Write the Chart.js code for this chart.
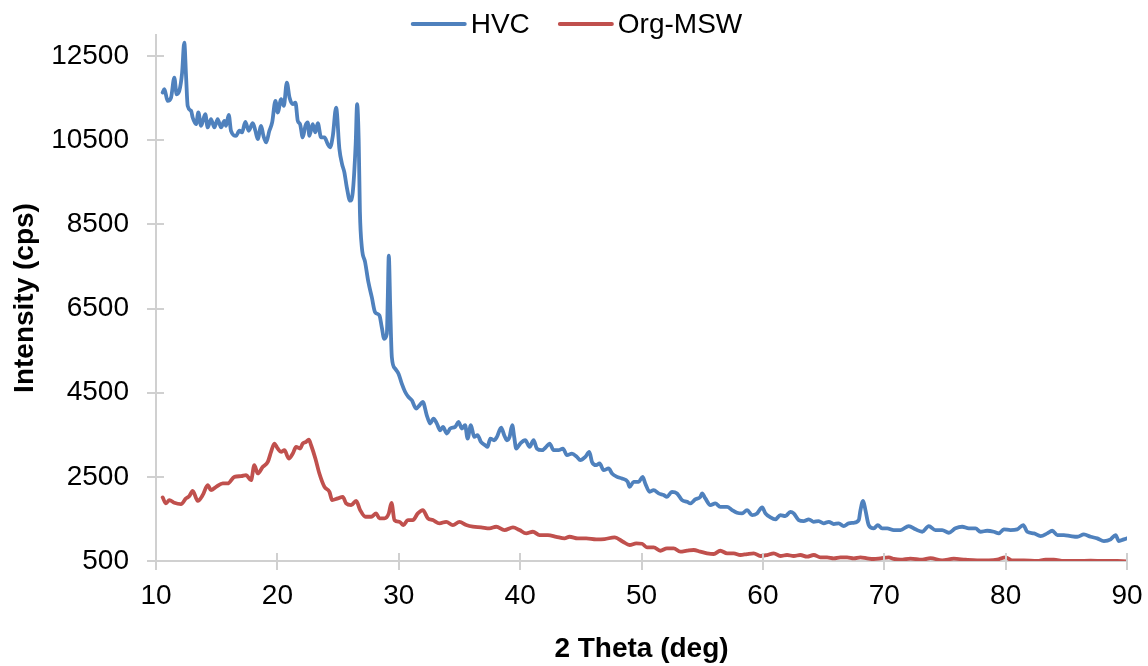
<!DOCTYPE html>
<html>
<head>
<meta charset="utf-8">
<script src="https://cdn.jsdelivr.net/npm/chart.js@4/dist/chart.umd.min.js"></script>
<style>
html,body{margin:0;padding:0;background:#fff;}
#wrap{width:1148px;height:666px;}
</style>
</head>
<body>
<div id="wrap"><canvas id="c" width="1148" height="666"></canvas></div>
<script>
// ---- data ----
const seriesNames = ["HVC", "Org-MSW"];
const xTicks = [10, 20, 30, 40, 50, 60, 70, 80, 90];
const yTicks = [500, 2500, 4500, 6500, 8500, 10500, 12500];

const hvcTheta = [10.55,10.69,10.96,11.24,11.51,11.70,11.92,12.15,12.33,12.48,12.61,12.89,13.02,13.30,13.49,13.71,14.06,14.26,14.53,14.81,15.08,15.36,15.63,15.77,15.99,16.18,16.60,16.87,17.09,17.36,17.64,17.97,18.19,18.38,18.66,18.85,19.07,19.34,19.57,19.84,20.03,20.31,20.53,20.78,21.00,21.27,21.49,21.68,21.87,22.09,22.31,22.50,22.64,22.91,23.13,23.33,23.60,23.88,24.15,24.34,24.57,24.84,25.11,25.33,25.52,25.72,25.99,26.21,26.45,26.57,26.70,26.80,26.96,27.23,27.50,27.78,28.05,28.41,28.60,28.80,29.02,29.10,29.18,29.30,29.43,29.70,29.98,30.25,30.53,30.80,31.08,31.43,31.71,31.98,32.31,32.59,32.86,33.14,33.41,33.64,33.97,34.24,34.65,34.92,35.20,35.47,35.67,35.94,36.22,36.49,36.77,37.12,37.31,37.54,37.86,38.09,38.44,38.69,38.91,39.13,39.35,39.51,39.68,40.01,40.42,40.78,41.11,41.38,41.80,42.15,42.43,42.76,43.17,43.53,43.86,44.27,44.68,44.96,45.37,45.70,45.92,46.27,46.55,46.88,47.29,47.57,47.98,48.39,48.86,49.02,49.35,49.76,50.09,50.31,50.67,51.00,51.41,51.82,52.10,52.51,52.93,53.34,53.75,54.02,54.43,54.85,54.99,55.26,55.67,56.08,56.49,57.05,57.46,57.87,58.29,58.70,59.11,59.52,59.94,60.21,60.62,61.03,61.44,61.85,62.27,62.54,62.95,63.36,63.78,64.19,64.60,65.01,65.43,65.84,66.25,66.66,67.07,67.49,67.90,68.04,68.26,68.45,68.72,69.14,69.47,69.82,70.24,70.79,71.34,72.02,72.57,73.13,73.67,74.22,74.77,75.32,75.87,76.42,76.97,77.52,77.93,78.48,79.03,79.44,79.85,80.40,80.95,81.45,81.78,82.33,82.88,83.43,83.84,84.26,84.80,85.35,85.90,86.45,87.00,87.55,88.10,88.65,89.06,89.33,89.74,90.00];
const hvcCounts = [11632,11712,11435,11513,11987,11592,11672,12100,12818,12000,11316,11198,11040,10882,11158,10842,11120,10803,11001,10803,11001,10803,10961,10842,11103,10724,10605,10724,10684,10937,10724,10906,10724,10527,10842,10605,10447,10724,10921,11435,11158,11475,11316,11869,11513,11355,11395,10961,10882,10566,10842,10921,10605,10882,10684,10906,10566,10566,10408,10328,10605,11276,10289,9933,9735,9379,9063,9260,10400,11355,10500,8800,7955,7600,7125,6769,6413,6335,6057,5782,5901,6800,7758,6500,5346,5071,4952,4715,4516,4397,4319,4122,4200,4279,3963,3766,3885,3766,3607,3686,3529,3648,3686,3805,3648,3726,3410,3726,3449,3489,3330,3251,3211,3410,3370,3449,3671,3489,3370,3449,3726,3449,3172,3291,3370,3211,3370,3172,3133,3211,3291,3133,3133,3172,3014,3054,2974,2896,2974,3093,2855,2777,2817,2658,2699,2580,2500,2461,2381,2262,2381,2381,2500,2343,2144,2184,2106,2066,2025,2144,2106,1947,1907,1869,1963,2025,2106,1987,1828,1869,1788,1788,1710,1646,1631,1710,1591,1631,1773,1631,1537,1489,1591,1567,1669,1631,1473,1449,1489,1432,1449,1394,1432,1378,1394,1330,1394,1408,1473,1710,1930,1710,1354,1276,1354,1276,1276,1235,1235,1330,1252,1195,1330,1235,1235,1171,1276,1314,1276,1276,1195,1219,1195,1157,1252,1235,1252,1354,1195,1157,1093,1157,1219,1117,1117,1093,1076,1133,1076,1038,974,1014,1117,974,1014,1038];

const mswTheta = [10.55,10.82,11.10,11.51,12.06,12.47,12.75,13.02,13.44,13.85,14.26,14.53,14.95,15.50,15.91,16.46,17.01,17.42,17.83,18.10,18.38,18.80,19.21,19.48,19.75,20.03,20.31,20.58,20.94,21.27,21.54,21.87,22.09,22.37,22.59,22.78,23.13,23.46,23.88,24.29,24.51,24.98,25.39,25.66,26.08,26.49,26.82,27.26,27.73,28.14,28.41,28.82,29.18,29.40,29.65,30.06,30.39,30.75,31.16,31.57,31.98,32.40,32.81,33.36,33.91,34.46,35.00,35.56,36.11,36.79,37.48,38.03,38.71,39.41,39.95,40.50,41.05,41.60,42.29,42.98,43.66,44.07,44.76,45.45,46.27,46.96,47.78,48.47,49.02,49.57,50.04,50.45,51.00,51.55,52.10,52.65,53.20,53.75,54.30,54.85,55.40,55.95,56.49,57.05,57.60,58.15,58.70,59.25,59.80,60.35,60.90,61.44,61.99,62.54,63.09,63.64,64.19,64.74,65.29,65.84,66.39,66.94,67.49,68.04,68.59,69.14,69.69,70.37,70.79,71.34,72.16,73.13,73.81,74.77,75.73,76.70,77.66,78.62,79.30,79.99,80.54,81.50,82.60,83.29,83.97,84.80,85.90,87.00,88.10,89.20,90.00];
const mswCounts = [2011,1869,1947,1883,1852,1987,2042,2167,1930,2066,2303,2184,2262,2343,2343,2500,2516,2540,2421,2777,2580,2737,2855,3093,3291,3172,3093,3133,2936,3054,3211,3172,3291,3330,3386,3251,2936,2580,2262,2144,1947,1987,2025,1869,1828,1930,1710,1551,1551,1631,1513,1513,1631,1883,1473,1432,1354,1473,1473,1631,1710,1513,1473,1394,1432,1354,1432,1354,1314,1299,1276,1314,1235,1299,1235,1157,1195,1117,1117,1076,1038,1076,1038,1038,1014,1022,1062,958,880,920,910,825,825,744,801,801,721,744,761,721,683,666,744,683,683,642,666,683,619,642,683,619,642,619,642,602,642,588,588,564,588,588,564,588,564,547,564,588,550,530,555,530,570,515,555,530,515,515,530,588,515,515,500,530,530,500,500,510,500,500,490];

const seriesColors = ["#4F81BD", "#C0504D"];

// ---- chart ----
const FONT = "'Liberation Sans', Arial, Helvetica, sans-serif";
const AXIS_COLOR = "#d0d0d0";

function pts(xs, ys) { return xs.map((x, i) => ({x: x, y: ys[i]})); }

const crossTicks = {
  id: 'crossTicks',
  afterDatasetsDraw(chart) {
    const ctx = chart.ctx, a = chart.chartArea;
    const xs = chart.scales.x, ys = chart.scales.y;
    ctx.save();
    ctx.strokeStyle = AXIS_COLOR;
    ctx.lineWidth = 2;
    ys.ticks.forEach((t, i) => {
      const py = Math.round(ys.getPixelForTick(i));
      ctx.beginPath(); ctx.moveTo(a.left, py); ctx.lineTo(a.left + 8, py); ctx.stroke();
    });
    xs.ticks.forEach((t, i) => {
      const px = Math.round(xs.getPixelForTick(i));
      ctx.beginPath(); ctx.moveTo(px, a.bottom); ctx.lineTo(px, a.bottom - 8); ctx.stroke();
    });
    ctx.restore();
  }
};

const customLegend = {
  id: 'customLegend',
  afterDraw(chart) {
    const ctx = chart.ctx;
    ctx.save();
    ctx.font = "28px " + FONT;
    ctx.textBaseline = 'middle';
    ctx.textAlign = 'left';
    const lineLen = 54, gap = 5, itemGap = 29;
    const items = chart.data.datasets.map(d => ({label: d.label, color: d.borderColor, w: ctx.measureText(d.label).width}));
    let total = 0;
    items.forEach((it, i) => { total += lineLen + gap + it.w + (i ? itemGap : 0); });
    let x = chart.width / 2 + 3 - total / 2;
    const y = 24;
    items.forEach((it) => {
      ctx.strokeStyle = it.color;
      ctx.lineWidth = 4;
      ctx.lineCap = 'round';
      ctx.beginPath(); ctx.moveTo(x + 1, y); ctx.lineTo(x + lineLen - 1, y); ctx.stroke();
      x += lineLen + gap;
      ctx.fillStyle = '#000';
      ctx.fillText(it.label, x, y + 1);
      x += it.w + itemGap;
    });
    ctx.restore();
  }
};

new Chart(document.getElementById('c'), {
  type: 'line',
  data: {
    datasets: [
      {label: seriesNames[0], data: pts(hvcTheta, hvcCounts), borderColor: seriesColors[0], backgroundColor: seriesColors[0], borderWidth: 3.8, pointRadius: 0, cubicInterpolationMode: 'monotone', borderJoinStyle: 'round', borderCapStyle: 'round', fill: false},
      {label: seriesNames[1], data: pts(mswTheta, mswCounts), borderColor: seriesColors[1], backgroundColor: seriesColors[1], borderWidth: 3.8, pointRadius: 0, cubicInterpolationMode: 'monotone', borderJoinStyle: 'round', borderCapStyle: 'round', fill: false}
    ]
  },
  options: {
    responsive: false,
    animation: false,
    parsing: true,
    layout: {padding: {top: 35, right: 21, bottom: 0, left: 0}},
    plugins: {legend: {display: false}, tooltip: {enabled: false}},
    scales: {
      x: {
        type: 'linear',
        min: 10, max: 90,
        afterBuildTicks: s => { s.ticks = xTicks.map(v => ({value: v})); },
        afterFit: s => { s.height = 105; s.paddingLeft = 0; s.paddingRight = 0; },
        ticks: {color: '#000', font: {family: FONT, size: 28}, padding: 9, maxRotation: 0, autoSkip: false, callback: v => String(v)},
        grid: {display: true, drawOnChartArea: false, drawTicks: true, tickLength: 9, color: AXIS_COLOR, lineWidth: 2},
        border: {display: true, color: AXIS_COLOR, width: 2},
        title: {display: true, text: '2 Theta (deg)', color: '#000', font: {family: FONT, size: 28, weight: 'bold'}, padding: {top: 0, bottom: 0}}
      },
      y: {
        type: 'linear',
        min: 500, max: 13000,
        afterBuildTicks: s => { s.ticks = yTicks.map(v => ({value: v})); },
        afterFit: s => { s.width = 156; s.paddingTop = 0; s.paddingBottom = 0; },
        ticks: {color: '#000', font: {family: FONT, size: 28}, padding: 18, autoSkip: false, callback: v => String(v)},
        grid: {display: true, drawOnChartArea: false, drawTicks: true, tickLength: 9, color: AXIS_COLOR, lineWidth: 2},
        border: {display: true, color: AXIS_COLOR, width: 2},
        title: {display: true, text: 'Intensity (cps)', color: '#000', font: {family: FONT, size: 28, weight: 'bold'}, padding: {top: 8, bottom: 0}}
      }
    }
  },
  plugins: [crossTicks, customLegend]
});
</script>
</body>
</html>
